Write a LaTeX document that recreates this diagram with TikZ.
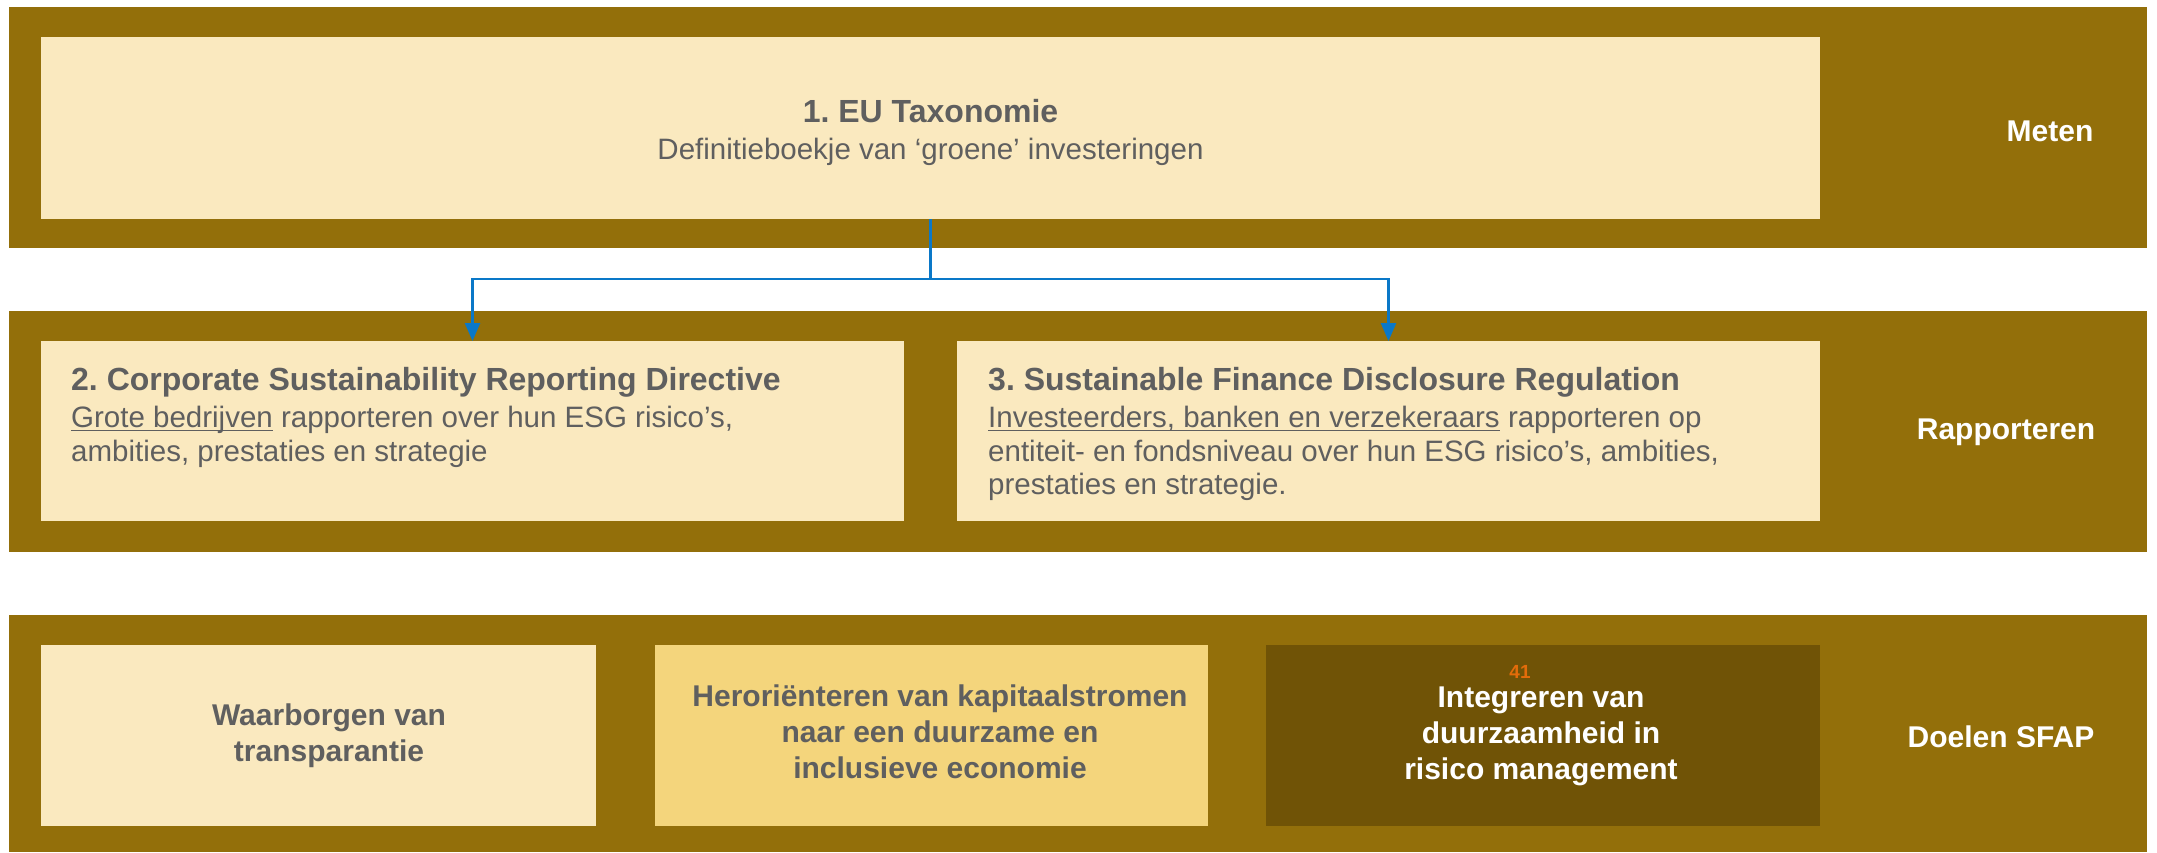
\documentclass[tikz,border=0pt]{standalone}
\usepackage{fontspec}
\setmainfont{Liberation Sans}
\usetikzlibrary{arrows.meta,calc}
\definecolor{band}{HTML}{936F0A}
\definecolor{cream}{HTML}{FAE9BF}
\definecolor{gold}{HTML}{F4D57C}
\definecolor{darkgold}{HTML}{705306}
\definecolor{txt}{HTML}{5F5F5F}
\definecolor{conn}{HTML}{0A78C8}
\definecolor{numorange}{HTML}{E36C0A}
\newsavebox{\ulbox}
\newcommand{\ul}[1]{\sbox{\ulbox}{#1}\rlap{\rule[-3.5pt]{\wd\ulbox}{1.3pt}}\usebox{\ulbox}}
\frenchspacing
\begin{document}
\begin{tikzpicture}[x=1pt,y=-1pt,
  bandbox/.style={fill=band,draw=none,inner sep=0pt,outer sep=0pt,anchor=north west,minimum width=2138pt},
  panel/.style={draw=none,inner sep=0pt,outer sep=0pt,anchor=north west},
  bodytext/.style={text=txt,inner sep=0pt,align=left,anchor=north west,font=\fontsize{29.5}{33.5}\selectfont},
  goaltext/.style={inner sep=0pt,align=center,font=\fontsize{30}{36}\selectfont\bfseries},
  sidelabel/.style={text=white,inner sep=0pt,font=\fontsize{30}{36}\selectfont\bfseries},
  connline/.style={draw=conn,line width=2.5pt},
  tip/.style={-{Triangle[width=15pt,length=18pt]}}
]
\useasboundingbox (0,0) rectangle (2157,852);
\fill[white] (0,0) rectangle (2157,852);
% bands
\node[bandbox,minimum height=241pt] (band1) at (9,7) {};
\node[bandbox,minimum height=241pt] (band2) at (9,311) {};
\node[bandbox,minimum height=237pt] (band3) at (9,615) {};
% panels
\node[panel,fill=cream,minimum width=1779pt,minimum height=182pt] (b1) at (41,37) {};
\node[panel,fill=cream,minimum width=863pt,minimum height=180pt] (b2) at (41,341) {};
\node[panel,fill=cream,minimum width=863pt,minimum height=180pt] (b3) at (957,341) {};
\node[panel,fill=cream,minimum width=555pt,minimum height=181pt] (b4) at (41,645) {};
\node[panel,fill=gold,minimum width=553pt,minimum height=181pt] (b5) at (655,645) {};
\node[panel,fill=darkgold,minimum width=554pt,minimum height=181pt] (b6) at (1266,645) {};
% texts
\node[text=txt,inner sep=0pt,align=center,font=\fontsize{29.5}{37}\selectfont] (t1) at (930.5,132)
  {{\fontsize{32}{37}\selectfont\bfseries 1. EU Taxonomie}\\Definitieboekje van ‘groene’ investeringen};
\node[bodytext] (t2) at (71,367)
  {{\fontsize{32}{37}\selectfont\bfseries 2. Corporate Sustainability Reporting Directive}\\[4pt]
   \ul{Grote bedrijven} rapporteren over hun ESG risico’s,\\
   ambities, prestaties en strategie};
\node[bodytext] (t3) at (988,367)
  {{\fontsize{32}{37}\selectfont\bfseries 3. Sustainable Finance Disclosure Regulation}\\[4pt]
   \ul{Investeerders, banken en verzekeraars} rapporteren op\\
   entiteit- en fondsniveau over hun ESG risico’s, ambities,\\
   prestaties en strategie.};
\node[goaltext,text=txt] (t4) at (329,736) {Waarborgen van\\transparantie};
\node[goaltext,text=txt] (t5) at (940,732) {Heroriënteren van kapitaalstromen\\naar een duurzame en\\inclusieve economie};
\node[goaltext,text=white] (t6) at (1541,736) {Integreren van\\duurzaamheid in\\risico management};
\node[text=numorange,inner sep=0pt,font=\fontsize{19}{22}\selectfont\bfseries] (n41) at (1520,672) {41};
% side labels
\node[sidelabel] (l1) at (2050,131) {Meten};
\node[sidelabel] (l2) at (2006,432) {Rapporteren};
\node[sidelabel] (l3) at (2001,737) {Doelen SFAP};
% connectors
\coordinate (j) at ($(b1.south)+(0,60)$);
\draw[connline] (b1.south) -- (j);
\draw[connline,tip] (j) -| (b2.north);
\draw[connline,tip] (j) -| (b3.north);
\end{tikzpicture}
\end{document}
